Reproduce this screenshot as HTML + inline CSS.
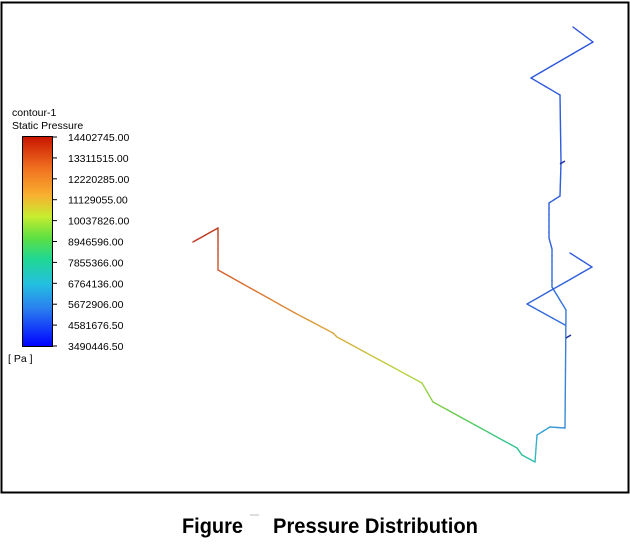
<!DOCTYPE html>
<html><head><meta charset="utf-8"><style>
body{margin:0;width:630px;height:539px;background:#fff;overflow:hidden;font-family:"Liberation Sans",sans-serif}
</style></head><body>
<svg width="630" height="539">
<defs>
<linearGradient id="cb" x1="0" y1="1" x2="0" y2="0">
<stop offset="0" stop-color="#0000ff"/><stop offset="0.18" stop-color="#2a7ff0"/>
<stop offset="0.3" stop-color="#24c0e0"/><stop offset="0.42" stop-color="#20d890"/>
<stop offset="0.52" stop-color="#60e040"/><stop offset="0.62" stop-color="#c8ec30"/>
<stop offset="0.72" stop-color="#f8b030"/><stop offset="0.85" stop-color="#f07020"/>
<stop offset="1" stop-color="#c81400"/></linearGradient></defs>
<rect x="1.5" y="2.5" width="627" height="490" fill="#fff" stroke="#000" stroke-width="2"/>
<text x="12" y="116" font-size="10.5">contour-1</text>
<text x="12" y="129" font-size="10.5">Static Pressure</text>
<rect x="22.5" y="136.5" width="30" height="210" fill="url(#cb)" stroke="#000"/>
<g id="ticks"></g>
<text x="8" y="362" font-size="10.5">[ Pa ]</text>
<g id="pipes"></g>
<line x1="560" y1="164" x2="565" y2="161" stroke="#2030a0" stroke-width="1.5"/>
<line x1="566" y1="338" x2="571" y2="335" stroke="#2030a0" stroke-width="1.5"/>
<rect x="250" y="514" width="9" height="2" fill="#ddd"/>
<text x="182" y="533" font-size="21" font-weight="bold" transform="translate(182 0) scale(0.95 1) translate(-182 0)">Figure</text>
<text x="273" y="533" font-size="21" font-weight="bold" transform="translate(273 0) scale(0.96 1) translate(-273 0)">Pressure Distribution</text>
</svg>
<script>
const tickLabels=["14402745.00","13311515.00","12220285.00","11129055.00","10037826.00","8946596.00","7855366.00","6764136.00","5672906.00","4581676.50","3490446.50"];
const pMin=3490446.5, pMax=14402745;
// pipe vertices (x,y) and static pressure at each vertex
const mainX=[193,218,218,295,333,337,422,433,517,522,535,537,550,565,566,552,552,549,549,560,561,560,531,593,573];
const mainY=[242,228,270,313,333,337,383,402,448,455,462,435,427,428,310,287,249,238,203,196,163,95,78,42,27];
const mainP=[14200000,14000000,13300000,12000000,11300000,11200000,10000000,9600000,7900000,7700000,7300000,6500000,6200000,5800000,5300000,5100000,5000000,4950000,4900000,4850000,4800000,4750000,4700000,4650000,4600000];
const branchX=[570,592,527,565];
const branchY=[253,267,304,325];
const branchP=[4750000,4800000,5000000,5200000];
const stops=[[0,[0,0,255]],[0.18,[42,127,240]],[0.3,[36,192,224]],[0.42,[32,216,144]],[0.52,[96,224,64]],[0.62,[200,236,48]],[0.72,[248,176,48]],[0.85,[240,112,32]],[1,[200,20,0]]];
function col(p){let t=(p-pMin)/(pMax-pMin);t=Math.max(0,Math.min(1,t));
for(let i=1;i<stops.length;i++){if(t<=stops[i][0]){const a=stops[i-1],b=stops[i],f=(t-a[0])/(b[0]-a[0]);
// mute toward grey like shaded render
return 'rgb('+a[1].map((v,k)=>Math.round((v+(b[1][k]-v)*f)*0.8+25)).join(',')+')';}}return 'rgb(185,41,25)';}
const NS='http://www.w3.org/2000/svg';
const tg=document.getElementById('ticks');
const yScale=i=>137+i*(209/(tickLabels.length-1));
tickLabels.forEach((l,i)=>{const y=yScale(i);
const ln=document.createElementNS(NS,'line');ln.setAttribute('x1',53);ln.setAttribute('x2',57);ln.setAttribute('y1',y);ln.setAttribute('y2',y);ln.setAttribute('stroke','#000');


tg.appendChild(ln);
const t=document.createElementNS(NS,'text');t.setAttribute('x',68);t.setAttribute('y',y+4);t.setAttribute('font-size','10.5');t.textContent=l;


tg.appendChild(t);});
const pg=document.getElementById('pipes');
function drawPath(X,Y,P,name){for(let i=0;i<X.length-1;i++){const n=6;for(let k=0;k<n;k++){
const f0=k/n,f1=(k+1)/n;const l=document.createElementNS(NS,'line');
l.setAttribute('x1',X[i]+(X[i+1]-X[i])*f0);l.setAttribute('y1',Y[i]+(Y[i+1]-Y[i])*f0);
l.setAttribute('x2',X[i]+(X[i+1]-X[i])*f1);l.setAttribute('y2',Y[i]+(Y[i+1]-Y[i])*f1);
l.setAttribute('stroke',col(P[i]+(P[i+1]-P[i])*(f0+f1)/2));l.setAttribute('stroke-width','1.4');l.setAttribute('stroke-linecap','round');


pg.appendChild(l);}}}
drawPath(mainX,mainY,mainP,'main-pipe-segment');
drawPath(branchX,branchY,branchP,'branch-pipe-segment');
</script>
</body></html>
